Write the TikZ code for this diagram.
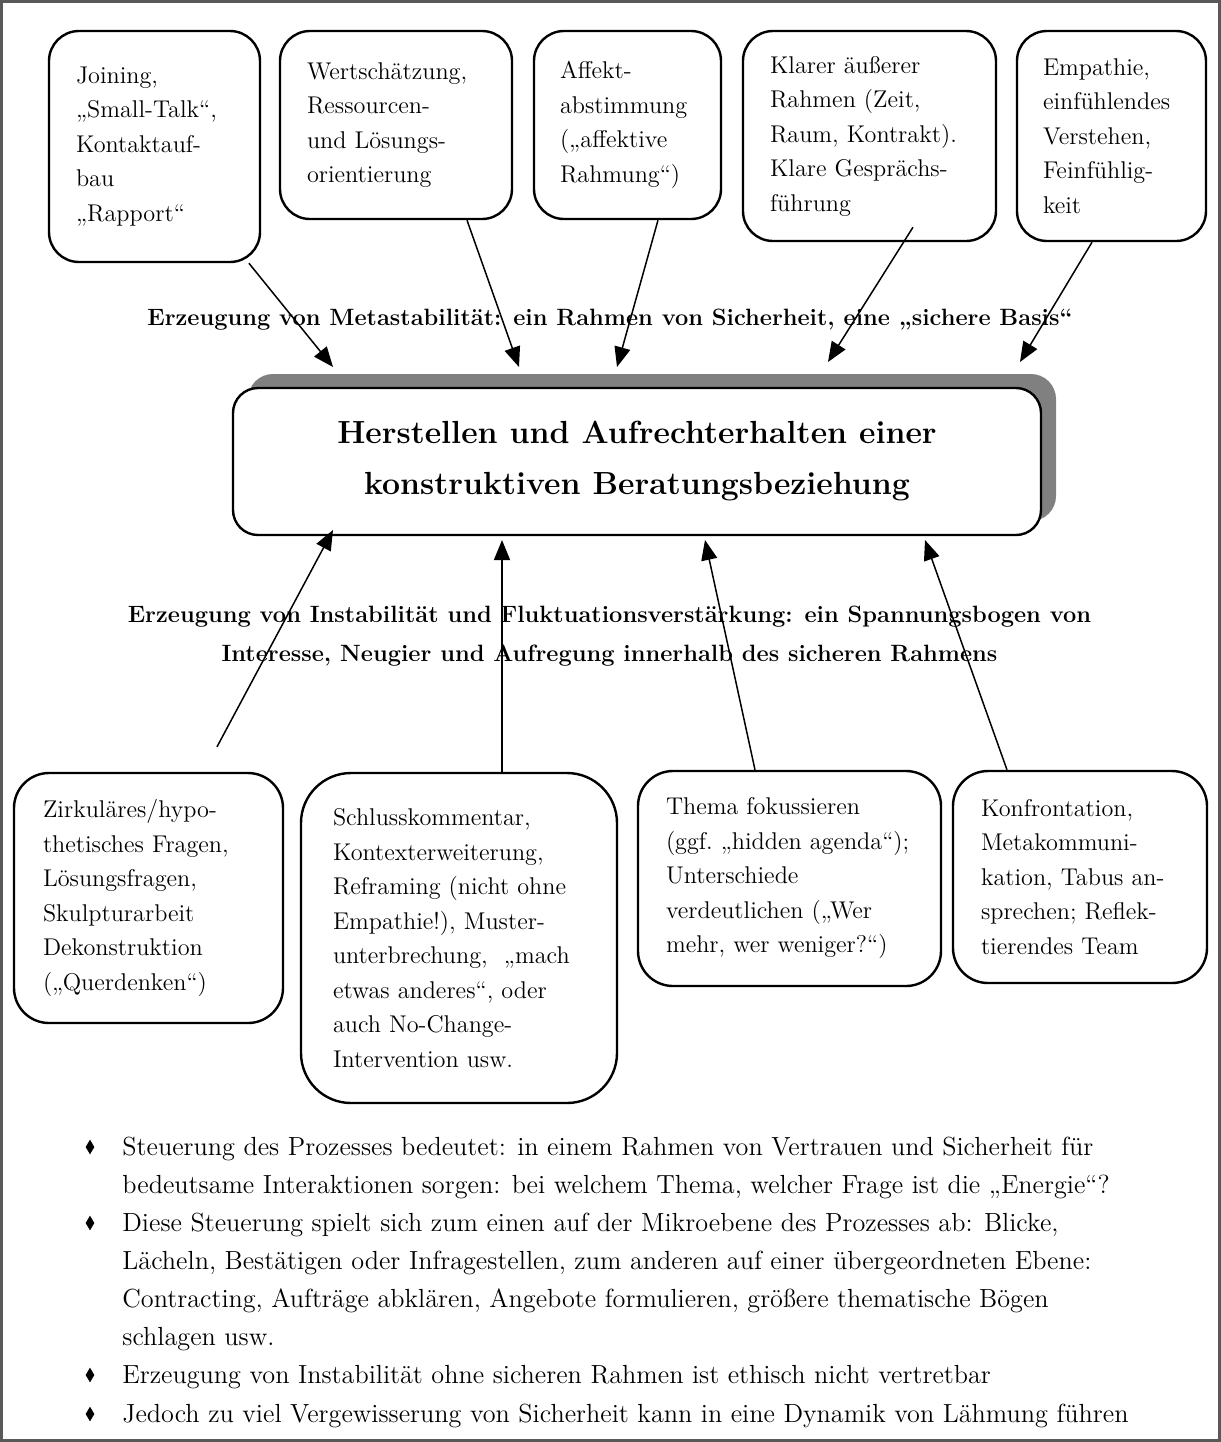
\documentclass[tikz,border=0pt]{standalone}
\usepackage{amssymb}
\usetikzlibrary{arrows.meta,shadows,shapes.geometric,calc}

\begin{document}
\begin{tikzpicture}[x=0.5pt,y=-0.5pt,
    box/.style={draw,line width=1.2pt,rounded corners=15pt,align=left,inner ysep=0pt,
        font=\fontsize{12.1}{17.25}\selectfont},
    arr/.style={-{Triangle[length=10pt,width=8pt]},line width=0.75pt},
    head/.style={font=\bfseries\fontsize{11.8}{19.5}\selectfont,align=center},
    dot/.style={diamond,fill=black,inner sep=0pt,minimum width=4.5pt,minimum height=7.5pt},
    bullet/.style={anchor=north west,inner sep=0pt,align=left,
        font=\fontsize{13.1}{19}\selectfont}]

    \useasboundingbox (0,0) rectangle (1221,1442);
    \draw[black!65,line width=1.5pt] (1.5,1.5) rectangle (1219.5,1440.5);

    % top boxes
    \node[box,text width=78.5pt,inner xsep=13.5pt,minimum height=115.5pt] (joining) at (154.5,146.5)
        {Joining,\\„Small-Talk“,\\Kontaktauf-\\bau\\„Rapport“};
    \node[box,text width=89pt,inner xsep=13.5pt,minimum height=94pt] (wert) at (396,125)
        {Wertschätzung,\\Ressourcen-\\und Lösungs-\\orientierung};
    \node[box,text width=67.5pt,inner xsep=13pt,minimum height=94pt] (affekt) at (627.5,125)
        {Affekt-\\abstimmung\\(„affektive\\Rahmung“)};
    \node[box,text width=99.5pt,inner xsep=13.5pt,minimum height=105pt] (rahmen) at (869.5,136)
        {Klarer äußerer\\Rahmen (Zeit,\\Raum, Kontrakt).\\Klare Gesprächs-\\führung};
    \node[box,text width=68.5pt,inner xsep=13pt,minimum height=105pt] (empathie) at (1111.5,136)
        {Empathie,\\einfühlendes\\Verstehen,\\Feinfühlig-\\keit};

    % center
    \node[head] (meta) at (610,320)
        {Erzeugung von Metastabilität: ein Rahmen von Sicherheit, eine „sichere Basis“};
    \node[draw,fill=white,line width=1.2pt,rounded corners=12.5pt,minimum width=404pt,minimum height=73.5pt,
        drop shadow={shadow xshift=7.5pt,shadow yshift=7pt,fill=gray,opacity=1},
        font=\bfseries\fontsize{16}{25.5}\selectfont,align=center] (main) at (637,461.5)
        {Herstellen und Aufrechterhalten einer\\konstruktiven Beratungsbeziehung};
    \node[head] (insta) at (609.5,636.5)
        {Erzeugung von Instabilität und Fluktuationsverstärkung: ein Spannungsbogen von\\
         Interesse, Neugier und Aufregung innerhalb des sicheren Rahmens};

    % bottom boxes
    \node[box,rounded corners=17.5pt,text width=105.5pt,inner xsep=14.5pt,minimum height=125pt] (zirk) at (148.5,898)
        {Zirkuläres/hypo-\\thetisches Fragen,\\Lösungsfragen,\\Skulpturarbeit\\Dekonstruktion\\(„Querdenken“)};
    \node[box,rounded corners=25pt,text width=126pt,inner xsep=16pt,minimum height=165pt] (schluss) at (459,938)
        {Schlusskommentar,\\Kontexterweiterung,\\Reframing (nicht ohne\\Empathie!), Muster-\\unterbrechung,\ \ „mach\\etwas anderes“, oder\\auch No-Change-\\Intervention usw.};
    \node[box,rounded corners=17.5pt,text width=123.5pt,inner xsep=14pt,minimum height=107.5pt] (thema) at (789.5,878.5)
        {Thema fokussieren\\(ggf.~„hidden~agenda“);\\Unterschiede\\verdeutlichen („Wer\\mehr, wer weniger?“)};
    \node[box,rounded corners=17.5pt,text width=99pt,inner xsep=14pt,minimum height=106pt] (konfr) at (1080,877)
        {Konfrontation,\\Metakommuni-\\kation, Tabus an-\\sprechen; Reflek-\\tierendes Team};

    % arrows
    \coordinate (m1) at (333,367);
    \coordinate (m2) at (519,367);
    \coordinate (m3) at (617,367);
    \coordinate (m4) at (828,362);
    \coordinate (m5) at (1020,362);
    \draw[arr] (joining) -- (m1);
    \draw[arr] ($(wert.south)+(71,0)$) -- (m2);
    \draw[arr] ($(affekt.south)+(30.5,0)$) -- (m3);
    \draw[arr] ($(rahmen.south)+(43.5,-15)$) -- (m4);
    \draw[arr] ($(empathie.south)+(-19.5,0)$) -- (m5);

    \coordinate (n1) at (333,530);
    \coordinate (n2) at (502,540);
    \coordinate (n3) at (705,540);
    \coordinate (n4) at (925,540);
    \draw[arr] ($(zirk.north)+(68.5,-25)$) -- (n1);
    \draw[arr] ($(schluss.north)+(43,0)$) -- (n2);
    \draw[arr] ($(thema.north)+(-34.5,0)$) -- (n3);
    \draw[arr] ($(konfr.north)+(-73,0)$) -- (n4);

    % bullets
    \node[dot] (d1) at (90,1147) {};
    \node[dot] (d2) at (90,1223) {};
    \node[dot] (d3) at (90,1375) {};
    \node[dot] (d4) at (90,1414) {};
    \node[bullet] (t1) at (122,1136.5)
        {Steuerung des Prozesses bedeutet: in einem Rahmen von Vertrauen und Sicherheit für\\
         bedeutsame Interaktionen sorgen: bei welchem Thema, welcher Frage ist die „Energie“?};
    \node[bullet] (t2) at (122,1212.5)
        {Diese Steuerung spielt sich zum einen auf der Mikroebene des Prozesses ab: Blicke,\\
         Lächeln, Bestätigen oder Infragestellen, zum anderen auf einer übergeordneten Ebene:\\
         Contracting, Aufträge abklären, Angebote formulieren, größere thematische Bögen\\
         schlagen usw.};
    \node[bullet] (t3) at (122,1364.5)
        {Erzeugung von Instabilität ohne sicheren Rahmen ist ethisch nicht vertretbar};
    \node[bullet] (t4) at (122,1403.5)
        {Jedoch zu viel Vergewisserung von Sicherheit kann in eine Dynamik von Lähmung führen};
\end{tikzpicture}
\end{document}
